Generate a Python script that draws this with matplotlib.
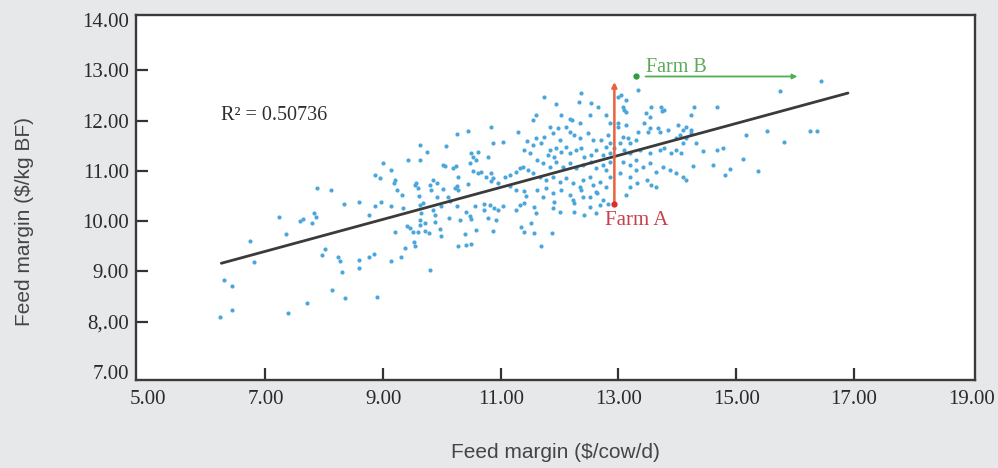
import matplotlib
matplotlib.use("Agg")
from matplotlib import pyplot as plt
import numpy as np

# points, grouped by region (feed margin $/cow/d, feed margin $/kg BF)
pts_left = [
    (6.23, 8.09), (6.29, 8.83), (6.43, 8.71), (6.43, 8.23), (6.74, 9.60), (6.80, 9.18),
    (7.23, 10.08), (7.35, 9.74), (7.38, 8.17), (7.58, 10.00), (7.64, 10.04), (7.70, 8.37),
    (7.79, 9.96), (7.82, 10.16), (7.86, 10.08), (7.87, 10.66), (8.12, 10.62), (7.96, 9.32),
    (8.01, 9.44), (8.13, 8.63), (8.23, 9.28), (8.26, 9.20), (8.30, 8.98), (8.35, 8.47),
    (8.33, 10.34), (8.59, 9.22), (8.59, 9.06), (8.59, 10.38), (8.76, 9.28), (8.76, 10.12),
    (8.84, 9.34), (8.89, 8.49), (8.86, 10.31), (8.96, 10.38), (8.86, 10.92), (8.94, 10.86),
]
pts_mid = [
    (8.99, 11.16), (9.14, 11.02), (9.18, 10.76), (9.23, 10.62), (9.32, 10.52), (9.20, 10.82),
    (9.13, 9.20), (9.31, 9.28), (9.37, 9.46), (9.53, 9.58), (9.54, 9.50), (9.20, 9.78),
    (9.41, 9.90), (9.45, 9.86), (9.79, 9.02), (9.50, 9.79), (9.62, 10.02), (9.71, 9.96),
    (9.62, 9.92), (9.59, 9.78), (9.71, 9.80), (9.78, 9.76), (9.65, 10.16), (9.67, 10.36),
    (9.88, 9.98), (9.88, 10.12), (9.96, 9.84), (9.98, 9.70), (9.42, 11.22), (9.62, 11.22),
    (9.62, 11.52), (9.74, 11.38), (9.84, 10.82), (9.91, 10.76), (9.79, 10.72), (9.54, 10.72),
    (9.55, 10.76), (9.59, 10.66), (9.82, 10.62), (9.14, 10.30), (9.34, 10.26), (9.62, 10.32),
    (9.84, 10.22), (9.99, 10.30), (10.13, 10.40), (10.25, 10.30), (9.61, 10.50), (9.91, 10.48),
    (10.10, 10.47),
]
pts_ten = [
    (10.06, 11.50), (10.26, 11.73), (10.45, 11.80), (10.84, 11.87), (10.86, 11.56), (11.04, 11.58),
    (10.50, 11.36), (10.61, 11.37), (10.58, 11.22), (10.47, 11.16), (10.78, 11.28), (10.05, 11.09),
    (10.23, 11.09), (10.52, 10.99), (10.61, 10.95), (10.67, 10.98), (10.27, 10.88), (10.26, 10.69),
    (10.44, 10.74), (10.01, 10.64), (10.22, 10.66), (10.27, 10.61), (10.75, 10.88), (10.87, 10.85),
    (10.84, 10.79), (10.95, 10.76), (10.02, 11.12), (10.19, 11.05), (10.53, 11.28), (10.84, 10.96),
    (10.12, 10.06), (10.30, 10.02), (10.41, 10.18), (10.47, 10.10), (10.50, 10.04), (10.58, 9.82),
    (10.39, 9.74), (10.27, 9.50), (10.40, 9.52), (10.50, 9.54), (10.87, 9.80), (10.78, 10.06),
    (10.92, 10.02), (10.95, 10.22), (11.04, 10.30), (10.89, 10.26), (10.72, 10.34), (10.81, 10.32),
    (10.56, 10.30), (10.72, 10.22), (11.35, 9.88), (11.39, 9.78), (11.26, 10.22), (11.40, 10.36),
    (11.32, 10.32), (11.29, 11.78), (11.40, 11.42), (11.45, 11.60), (11.07, 10.88), (11.15, 10.92),
    (11.26, 10.98), (11.32, 11.05), (11.38, 11.08), (11.46, 11.02), (11.15, 10.69), (11.26, 10.62),
    (11.40, 10.59), (11.43, 10.49),
]
pts_dense = [
    (11.74, 12.47), (11.93, 12.33), (11.60, 12.11), (11.55, 12.01), (12.03, 12.11), (12.17, 12.04),
    (12.21, 12.01), (11.83, 11.88), (11.97, 11.85), (11.88, 11.75), (11.74, 11.68), (11.60, 11.65),
    (11.69, 11.55), (11.55, 11.52), (11.49, 11.35), (12.00, 11.62), (11.94, 11.45), (11.83, 11.42),
    (11.80, 11.32), (11.91, 11.28), (12.03, 11.38), (12.11, 11.48), (12.17, 11.35), (11.61, 11.22),
    (11.72, 11.15), (11.83, 11.08), (11.94, 11.18), (12.05, 11.08), (12.17, 11.15), (11.55, 10.95),
    (11.66, 10.88), (11.77, 10.82), (11.88, 10.88), (12.00, 10.78), (12.11, 10.85), (12.22, 10.75),
    (11.61, 10.62), (11.77, 10.65), (11.88, 10.55), (12.03, 10.62), (12.17, 10.52), (11.57, 10.29),
    (11.60, 10.16), (11.91, 10.39), (11.89, 10.26), (12.00, 10.19), (12.25, 10.36), (12.25, 10.19),
    (12.42, 10.12), (12.68, 10.32), (12.82, 10.34), (11.56, 9.76), (11.87, 9.76), (11.69, 9.51),
    (11.52, 9.96), (11.72, 10.48), (12.22, 10.42), (12.34, 10.68), (12.39, 10.48), (12.51, 10.28),
    (12.62, 10.58), (12.73, 10.42), (12.62, 10.16),
]
pts_upper = [
    (12.37, 12.56), (12.33, 12.38), (12.54, 12.35), (12.65, 12.27), (12.99, 12.48), (13.05, 12.51),
    (13.07, 12.28), (13.10, 12.21), (13.13, 12.18), (13.33, 12.61), (13.13, 12.41), (12.51, 12.11),
    (12.34, 11.95), (12.79, 12.11), (12.85, 11.95), (12.99, 11.95), (13.00, 11.88), (13.47, 12.15),
    (13.53, 12.08), (13.44, 11.95), (13.55, 12.27), (13.72, 12.28), (13.78, 12.21), (13.74, 12.20),
    (13.53, 11.85), (13.50, 11.78), (13.67, 11.85), (13.70, 11.78), (13.84, 11.82), (14.01, 11.91),
    (14.09, 11.82), (14.15, 11.88), (13.13, 11.91), (13.07, 11.68), (13.16, 11.65), (13.19, 11.56),
    (13.33, 11.78), (13.30, 11.62), (12.11, 11.88), (12.17, 11.78), (12.25, 11.72), (12.34, 11.65),
    (12.48, 11.75), (12.56, 11.62), (12.71, 11.62), (12.82, 11.72), (12.85, 11.55), (12.79, 11.48),
]
pts_centre = [
    (12.28, 11.42), (12.37, 11.45), (12.42, 11.28), (12.54, 11.32), (12.62, 11.42), (12.73, 11.32),
    (12.85, 11.35), (12.93, 11.45), (13.02, 11.55), (13.10, 11.42), (13.19, 11.35), (13.36, 11.42),
    (13.53, 11.35), (13.70, 11.42), (13.78, 11.45), (13.89, 11.35), (13.98, 11.42), (14.09, 11.55),
    (14.15, 11.65), (13.98, 11.65), (14.04, 11.72), (12.28, 11.05), (12.39, 11.12), (12.54, 11.18),
    (12.62, 11.05), (12.73, 11.12), (12.85, 11.18), (12.79, 11.02), (13.07, 11.18), (13.19, 11.12),
    (13.30, 11.02), (13.41, 11.08), (13.53, 11.15), (13.64, 10.98), (13.75, 11.08), (13.87, 11.02),
    (13.98, 10.95), (14.09, 10.88), (14.15, 10.82), (12.39, 10.82), (12.51, 10.88), (12.56, 10.72),
    (12.68, 10.78), (12.79, 10.68), (12.85, 10.88), (13.19, 10.88), (13.31, 10.75), (13.48, 10.82),
    (13.56, 10.72), (12.37, 10.62), (12.51, 10.48), (12.64, 10.55), (13.13, 10.52), (13.19, 10.68),
    (13.02, 10.96), (13.30, 11.22), (14.06, 11.36), (13.64, 10.68),
]
pts_right = [
    (16.45, 12.80), (15.75, 12.60), (14.29, 12.28), (14.67, 12.28), (14.23, 12.11), (14.23, 11.82),
    (14.23, 11.75), (15.17, 11.71), (15.52, 11.79), (16.25, 11.79), (16.38, 11.79), (14.32, 11.56),
    (15.81, 11.57), (14.43, 11.40), (14.67, 11.42), (14.77, 11.45), (15.11, 11.24), (14.26, 11.10),
    (14.61, 11.12), (14.90, 11.04), (15.37, 11.00), (14.81, 10.92),
]

trend_x = [6.25, 16.9]
trend_y = [9.16, 12.55]
r_squared = "0.50736"

farm_a_x = 12.93
farm_a_y = [10.34, 12.77]
farm_b_y = 12.88
farm_b_dot = 13.30
farm_b_x = [13.46, 16.04]

x_ticks = [5, 7, 9, 11, 13, 15, 17, 19]
x_labels = ["5.00", "7.00", "9.00", "11.00", "13.00", "15.00", "17.00", "19.00"]
y_ticks = [7, 8, 9, 10, 11, 12, 13, 14]
y_labels = ["7.00", "8,.00", "9.00", "10.00", "11.00", "12.00", "13.00", "14.00"]

serif = ["Liberation Serif", "DejaVu Serif"]
narrow = ["Liberation Sans Narrow", "Liberation Sans", "DejaVu Sans"]

points = np.array(pts_left + pts_mid + pts_ten + pts_dense + pts_upper + pts_centre + pts_right)

fig = plt.figure(figsize=(9.98, 4.68), dpi=100, facecolor="#e7e8ea")
ax = fig.add_axes([0.1363, 0.188, 0.8407, 0.780])
ax.set_facecolor("white")

ax.scatter(points[:, 0], points[:, 1], s=9, color="#4aa7dc", linewidths=0, zorder=2)
ax.plot(trend_x, trend_y, color="#3b3b3b", lw=2.0, zorder=3, solid_capstyle="round")

# Farm A
ax.annotate("", xy=(farm_a_x, farm_a_y[1]), xytext=(farm_a_x, farm_a_y[0]),
            arrowprops=dict(arrowstyle="-|>", color="#e8633f", lw=1.8, mutation_scale=7,
                            shrinkA=0, shrinkB=0), zorder=4)
ax.plot(farm_a_x, farm_a_y[0], "o", ms=3.5, color="#dd2c2c", zorder=5)
ax.text(13.31, 10.02, "Farm A", color="#c8404e", ha="center", va="center",
        fontsize=15, family=serif)

# Farm B
ax.annotate("", xy=(farm_b_x[1], farm_b_y), xytext=(farm_b_x[0], farm_b_y),
            arrowprops=dict(arrowstyle="-|>", color="#4caf50", lw=1.3, mutation_scale=7,
                            shrinkA=0, shrinkB=0), zorder=4)
ax.plot(farm_b_dot, farm_b_y, "o", ms=3.5, color="#2e9e3e", zorder=5)
ax.text(farm_b_x[0], 12.97, "Farm B", color="#5aaa5a", ha="left", va="baseline",
        fontsize=14.5, family=serif)

ax.text(6.25, 12.11, "R² = " + r_squared, color="#2e2e2e", ha="left", va="center",
        fontsize=14.5, family=serif)

ax.set_xlim(4.80, 19.06)
ax.set_ylim(6.835, 14.105)
ax.set_xticks(x_ticks)
ax.set_xticklabels(x_labels, family=serif)
ax.set_yticks(y_ticks)
ax.set_yticklabels(y_labels, family=serif)
ax.tick_params(direction="in", length=8.5, width=1.6, color="#333333", labelsize=15,
               labelcolor="#2a2a2a")
ax.tick_params(axis="x", pad=7)
ax.tick_params(axis="y", pad=5)

# the end values carry a label but no tick mark
for tick in [ax.xaxis.get_major_ticks()[0], ax.xaxis.get_major_ticks()[-1],
             ax.yaxis.get_major_ticks()[0], ax.yaxis.get_major_ticks()[-1]]:
    tick.tick1line.set_visible(False)

for side in ["left", "right", "top", "bottom"]:
    ax.spines[side].set_color("#3a3a3a")
    ax.spines[side].set_linewidth(1.7)

fig.text(555.5 / 998, 1 - 452 / 468, "Feed margin ($/cow/d)", ha="center", va="center",
         fontsize=15, color="#454545", family=narrow)
fig.text(25 / 998, 1 - 221 / 468, "Feed margin ($/kg BF)", ha="center", va="center",
         rotation=90, fontsize=15, color="#454545", family=narrow)

fig.savefig("out.png", dpi=100, facecolor=fig.get_facecolor())
